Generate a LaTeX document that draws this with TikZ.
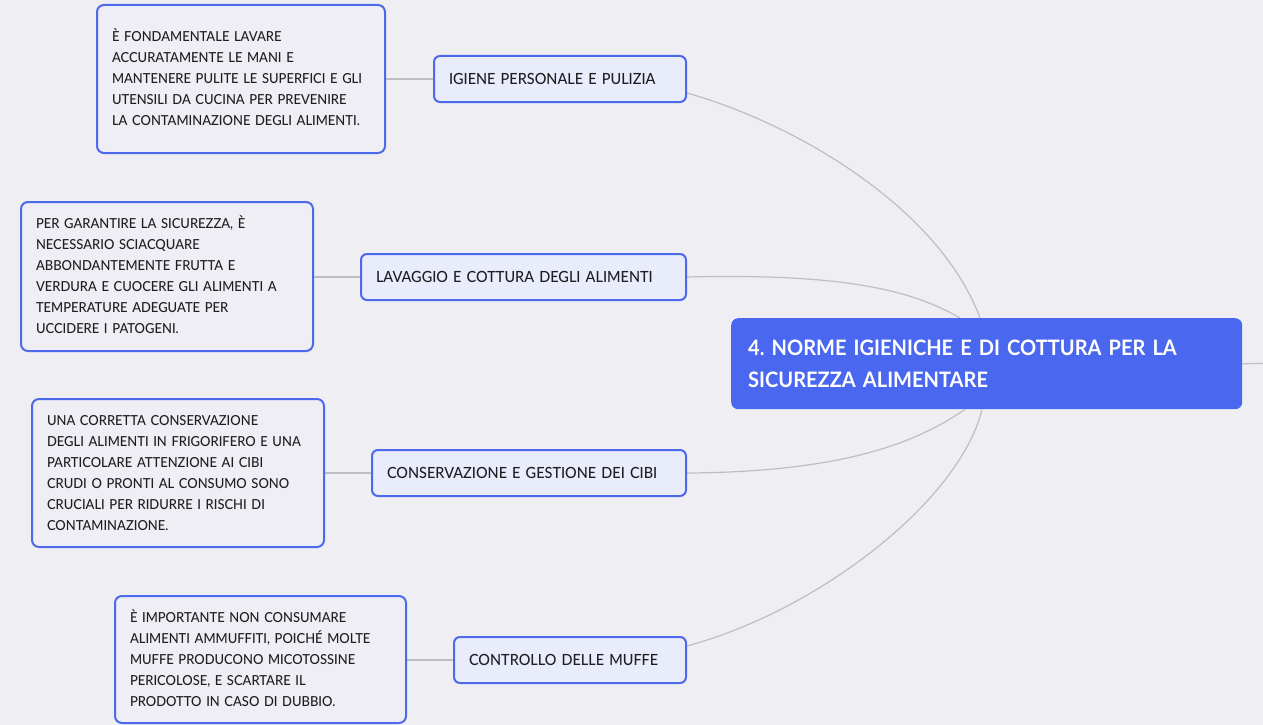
\documentclass[tikz,border=0pt]{standalone}
\usepackage{fontspec}
\setmainfont{Lato}[FakeStretch=0.94]
\newfontfamily\notefont{Lato Medium}[FakeStretch=0.94]
\usetikzlibrary{backgrounds,calc}

\definecolor{bg}{HTML}{EEEEF3}
\definecolor{mainblue}{HTML}{4A67F0}
\definecolor{edgeblue}{HTML}{4D69EC}
\definecolor{topicfill}{HTML}{E9ECFA}
\definecolor{descfill}{HTML}{EEEEF4}
\definecolor{linkgray}{HTML}{BDBDC3}
\definecolor{ink}{HTML}{1E1E22}

\begin{document}
\frenchspacing
\begin{tikzpicture}[x=1pt,y=-1pt,
  box/.style={draw=edgeblue, line width=2pt, anchor=north west, align=left,
    inner xsep=15pt, inner ysep=0pt, text=ink},
  topic/.style={box, fill=topicfill, rounded corners=6pt,
    font=\notefont\fontsize{15.4}{18}\selectfont, minimum height=46pt},
  desc/.style={box, fill=descfill, rounded corners=7pt,
    font=\notefont\fontsize{13.8}{21}\selectfont},
  central/.style={fill=mainblue, rounded corners=7pt, anchor=north west,
    align=left, text=white, inner xsep=17pt, inner ysep=0pt,
    minimum width=511pt, minimum height=91pt, text width=477pt,
    font=\fontsize{21.3}{32}\selectfont\bfseries},
  link/.style={draw=linkgray, line width=1.2pt}]

\useasboundingbox (0,0) rectangle (1263,725);

% central topic
\node[central] (main) at (731,318)
  {4. NORME IGIENICHE E DI COTTURA PER LA\\SICUREZZA ALIMENTARE};

% branch topics
\node[topic, text width=222pt] (t1) at (433,55) {IGIENE PERSONALE E PULIZIA};
\node[topic, text width=295pt] (t2) at (360,253) {LAVAGGIO E COTTURA DEGLI ALIMENTI};
\node[topic, text width=284pt] (t3) at (371,449) {CONSERVAZIONE E GESTIONE DEI CIBI};
\node[topic, text width=202pt] (t4) at (453,636) {CONTROLLO DELLE MUFFE};

% detail notes (accented capitals smashed so the first line keeps its height)
\node[desc, text width=258pt, minimum height=148pt] (d1) at (96,4)
  {\smash{È} FONDAMENTALE LAVARE\\ACCURATAMENTE LE MANI E\\MANTENERE PULITE LE SUPERFICI E GLI\\UTENSILI DA CUCINA PER PREVENIRE\\LA CONTAMINAZIONE DEGLI ALIMENTI.};
\node[desc, text width=262pt, minimum height=149pt] (d2) at (20,201)
  {PER GARANTIRE LA SICUREZZA, \smash{È}\\NECESSARIO SCIACQUARE\\ABBONDANTEMENTE FRUTTA E\\VERDURA E CUOCERE GLI ALIMENTI A\\TEMPERATURE ADEGUATE PER\\UCCIDERE I PATOGENI.};
\node[desc, text width=262pt, minimum height=148pt] (d3) at (31,398)
  {UNA CORRETTA CONSERVAZIONE\\DEGLI ALIMENTI IN FRIGORIFERO E UNA\\PARTICOLARE ATTENZIONE AI CIBI\\CRUDI O PRONTI AL CONSUMO SONO\\CRUCIALI PER RIDURRE I RISCHI DI\\CONTAMINAZIONE.};
\node[desc, text width=261pt, minimum height=127pt] (d4) at (114,595)
  {\smash{È} IMPORTANTE NON CONSUMARE\\ALIMENTI AMMUFFITI, POICHÉ MOLTE\\MUFFE PRODUCONO MICOTOSSINE\\PERICOLOSE, E SCARTARE IL\\PRODOTTO IN CASO DI DUBBIO.};

\coordinate (rightend) at (1263,363.5);

\begin{pgfonlayer}{background}
  % canvas
  \fill[bg] (0,0) rectangle (1263,725);
  % central topic to branches
  \draw[link] ($(t1.south east)+(0,-10)$) .. controls (800,125) and (940,210) .. ($(main.north west)+(249,0)$);
  \draw[link] (t2.east) .. controls (850,273) and (915,292) .. ($(main.north west)+(229,0)$);
  \draw[link] (t3.east) .. controls (850,472) and (920,440) .. ($(main.south west)+(234,0)$);
  \draw[link] ($(t4.north east)+(0,10)$) .. controls (820,610) and (960,500) .. ($(main.south west)+(251,0)$);
  \draw[link] (main.east) -- (rightend);
  % branches to notes
  \draw[link] (t1.west) -- (t1.west -| d1.east);
  \draw[link] (t2.west) -- (t2.west -| d2.east);
  \draw[link] (t3.west) -- (t3.west -| d3.east);
  \draw[link] (t4.west) -- (t4.west -| d4.east);
\end{pgfonlayer}
\end{tikzpicture}
\end{document}
